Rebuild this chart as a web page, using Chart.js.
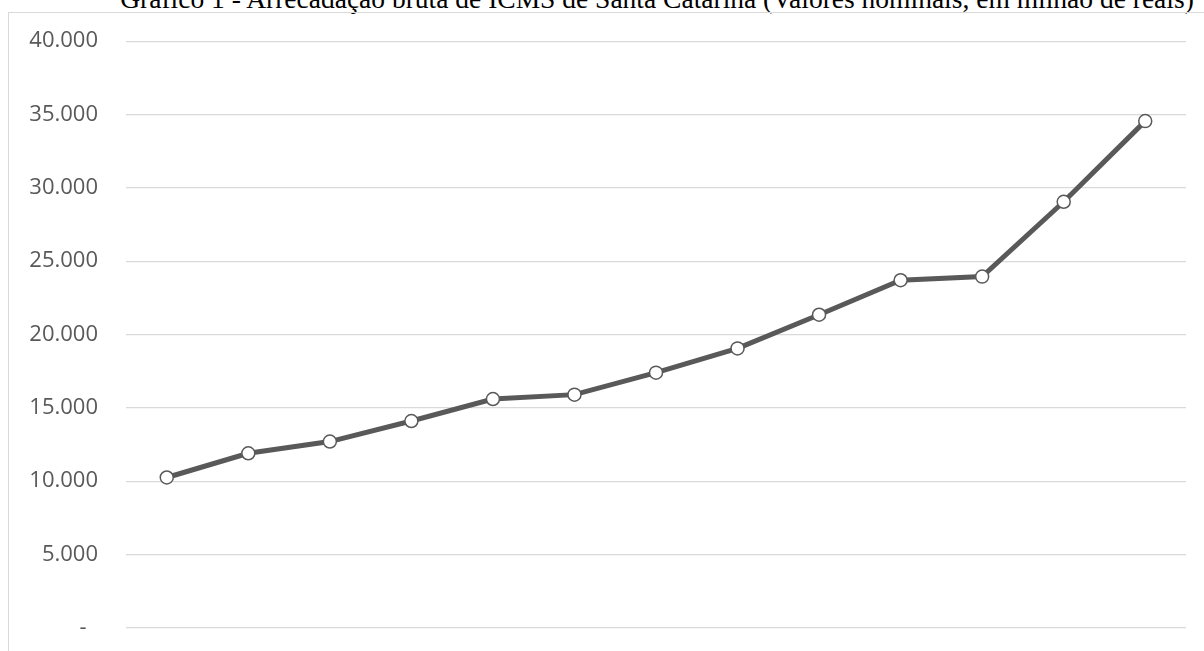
<!DOCTYPE html>
<html>
<head>
<meta charset="utf-8">
<script src="https://cdn.jsdelivr.net/npm/chart.js@4/dist/chart.umd.min.js"></script>
<style>
  html, body { margin: 0; padding: 0; background: #fff; overflow: hidden; }
  #title {
    position: absolute; left: 0; width: 1204px; top: -17px;
    text-align: center; padding-left: 110px; box-sizing: border-box;
    font-family: "Liberation Serif", "DejaVu Serif", serif; font-size: 27.5px;
    color: #000; white-space: nowrap; line-height: 32px;
  }
  #box {
    position: absolute; left: 8px; top: 12px; width: 1220px; height: 700px;
    border: 1px solid #d9d9d9; box-sizing: border-box;
  }
  /* canvas runs a bit past the bottom edge, like the cropped original */
  #wrap { position: absolute; left: 0; top: 0; width: 1204px; height: 669px; }
</style>
</head>
<body>
<div id="title">Gráfico 1 - Arrecadação bruta de ICMS de Santa Catarina (Valores nominais, em milhão de reais)</div>
<div id="box"></div>
<div id="wrap"><canvas id="chart"></canvas></div>
<script>
// ---- Data (x labels are cut off below the frame) ----
const years = ["2010", "2011", "2012", "2013", "2014", "2015", "2016",
               "2017", "2018", "2019", "2020", "2021", "2022"];
const icms = [10250, 11900, 12700, 14100, 15600, 15900, 17400,
              19050, 21350, 23700, 23950, 29050, 34550];
const yTicks = [0, 5000, 10000, 15000, 20000, 25000, 30000, 35000, 40000];

const LINE = "#595959";

// 40000 -> "40.000", 0 -> "-" (accounting style)
function fmt(v) {
  if (v === 0) return "-  ";
  return String(v).replace(/\B(?=(\d{3})+(?!\d))/g, ".");
}

new Chart(document.getElementById("chart"), {
  type: "line",
  data: {
    labels: years,
    datasets: [{
      data: icms,
      borderColor: LINE,
      borderWidth: 5,
      tension: 0,
      pointRadius: 6.5,
      pointBorderWidth: 1.5,
      pointBackgroundColor: "#fff",
      pointBorderColor: LINE,
    }],
  },
  options: {
    animation: false,
    responsive: true,
    maintainAspectRatio: false,
    events: [],
    layout: { padding: { top: 41, bottom: 7, left: 0, right: 18 } },
    plugins: { legend: { display: false }, tooltip: { enabled: false }, title: { display: false } },
    scales: {
      x: { display: false, offset: true },
      y: {
        min: 0, max: 40000,
        afterBuildTicks: s => { s.ticks = yTicks.map(v => ({ value: v })); },
        afterFit: s => { s.width = 126; },
        border: { display: false },
        grid: { color: "#d9d9d9", lineWidth: 1.3, drawTicks: false },
        ticks: {
          padding: 28,
          color: "#595959",
          font: { family: "'Open Sans', 'Liberation Sans', sans-serif", size: 22 },
          callback: v => fmt(v),
        },
      },
    },
  },
});
</script>
</body>
</html>
